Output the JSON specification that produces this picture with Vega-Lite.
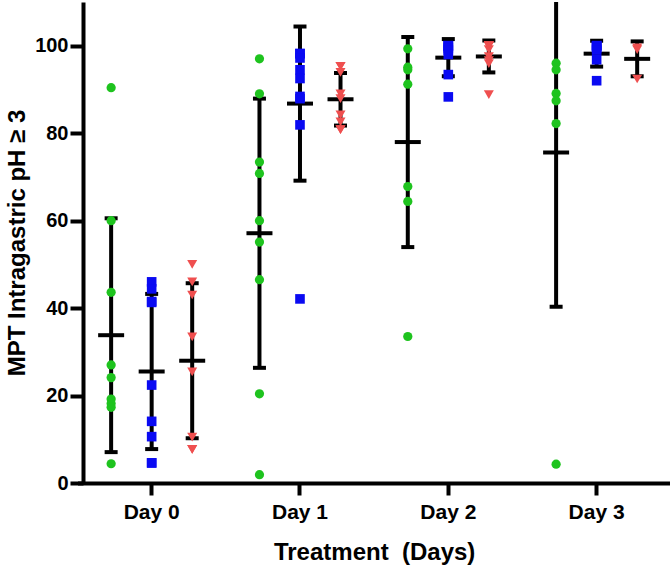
{
  "$schema": "https://vega.github.io/schema/vega-lite/v6.json",
  "width": 587,
  "height": 481,
  "autosize": {"type": "none"},
  "padding": {"left": 83, "top": 2, "right": 0, "bottom": 92},
  "background": "white",
  "config": {
    "view": {"stroke": null},
    "font": "Liberation Sans",
    "axis": {
      "domainColor": "black", "domainWidth": 4, "tickColor": "black", "tickWidth": 4,
      "labelColor": "black", "labelFont": "Liberation Sans", "labelFontWeight": "bold", "labelFontSize": 20,
      "titleFont": "Liberation Sans", "titleFontWeight": "bold", "titleFontSize": 24, "titleColor": "black",
      "grid": false
    }
  },
  "data": {"values": [
    {"day": "Day 0", "group": "G1", "mpt": 90.4}, {"day": "Day 0", "group": "G1", "mpt": 60.0}, {"day": "Day 0", "group": "G1", "mpt": 43.6},
    {"day": "Day 0", "group": "G1", "mpt": 27.0}, {"day": "Day 0", "group": "G1", "mpt": 24.1}, {"day": "Day 0", "group": "G1", "mpt": 19.2},
    {"day": "Day 0", "group": "G1", "mpt": 18.2}, {"day": "Day 0", "group": "G1", "mpt": 17.3}, {"day": "Day 0", "group": "G1", "mpt": 4.4},
    {"day": "Day 0", "group": "G2", "mpt": 46.0}, {"day": "Day 0", "group": "G2", "mpt": 44.4}, {"day": "Day 0", "group": "G2", "mpt": 41.5},
    {"day": "Day 0", "group": "G2", "mpt": 41.3}, {"day": "Day 0", "group": "G2", "mpt": 22.4}, {"day": "Day 0", "group": "G2", "mpt": 14.1},
    {"day": "Day 0", "group": "G2", "mpt": 10.6}, {"day": "Day 0", "group": "G2", "mpt": 4.6}, {"day": "Day 0", "group": "G2", "mpt": 4.6},
    {"day": "Day 0", "group": "G3", "mpt": 50.0}, {"day": "Day 0", "group": "G3", "mpt": 46.0}, {"day": "Day 0", "group": "G3", "mpt": 43.0},
    {"day": "Day 0", "group": "G3", "mpt": 33.4}, {"day": "Day 0", "group": "G3", "mpt": 25.4}, {"day": "Day 0", "group": "G3", "mpt": 10.5},
    {"day": "Day 0", "group": "G3", "mpt": 7.7}, {"day": "Day 0", "group": "G3", "mpt": 7.7},
    {"day": "Day 1", "group": "G1", "mpt": 97.0}, {"day": "Day 1", "group": "G1", "mpt": 89.0}, {"day": "Day 1", "group": "G1", "mpt": 73.4},
    {"day": "Day 1", "group": "G1", "mpt": 70.8}, {"day": "Day 1", "group": "G1", "mpt": 60.0}, {"day": "Day 1", "group": "G1", "mpt": 55.1},
    {"day": "Day 1", "group": "G1", "mpt": 46.5}, {"day": "Day 1", "group": "G1", "mpt": 20.4}, {"day": "Day 1", "group": "G1", "mpt": 1.9},
    {"day": "Day 1", "group": "G2", "mpt": 98.2}, {"day": "Day 1", "group": "G2", "mpt": 98.2}, {"day": "Day 1", "group": "G2", "mpt": 97.2},
    {"day": "Day 1", "group": "G2", "mpt": 94.5}, {"day": "Day 1", "group": "G2", "mpt": 92.5}, {"day": "Day 1", "group": "G2", "mpt": 88.4},
    {"day": "Day 1", "group": "G2", "mpt": 87.9}, {"day": "Day 1", "group": "G2", "mpt": 81.9}, {"day": "Day 1", "group": "G2", "mpt": 42.1},
    {"day": "Day 1", "group": "G3", "mpt": 95.3}, {"day": "Day 1", "group": "G3", "mpt": 95.3}, {"day": "Day 1", "group": "G3", "mpt": 93.9},
    {"day": "Day 1", "group": "G3", "mpt": 89.0}, {"day": "Day 1", "group": "G3", "mpt": 87.9}, {"day": "Day 1", "group": "G3", "mpt": 84.2},
    {"day": "Day 1", "group": "G3", "mpt": 82.6}, {"day": "Day 1", "group": "G3", "mpt": 80.8}, {"day": "Day 1", "group": "G3", "mpt": 80.8},
    {"day": "Day 2", "group": "G1", "mpt": 99.3}, {"day": "Day 2", "group": "G1", "mpt": 95.1}, {"day": "Day 2", "group": "G1", "mpt": 94.5},
    {"day": "Day 2", "group": "G1", "mpt": 91.2}, {"day": "Day 2", "group": "G1", "mpt": 67.8}, {"day": "Day 2", "group": "G1", "mpt": 64.4},
    {"day": "Day 2", "group": "G1", "mpt": 33.5},
    {"day": "Day 2", "group": "G2", "mpt": 100}, {"day": "Day 2", "group": "G2", "mpt": 100}, {"day": "Day 2", "group": "G2", "mpt": 100},
    {"day": "Day 2", "group": "G2", "mpt": 99.5}, {"day": "Day 2", "group": "G2", "mpt": 99.0}, {"day": "Day 2", "group": "G2", "mpt": 98.0},
    {"day": "Day 2", "group": "G2", "mpt": 93.4}, {"day": "Day 2", "group": "G2", "mpt": 88.3},
    {"day": "Day 2", "group": "G3", "mpt": 100}, {"day": "Day 2", "group": "G3", "mpt": 100}, {"day": "Day 2", "group": "G3", "mpt": 100},
    {"day": "Day 2", "group": "G3", "mpt": 100}, {"day": "Day 2", "group": "G3", "mpt": 99.1}, {"day": "Day 2", "group": "G3", "mpt": 97.5},
    {"day": "Day 2", "group": "G3", "mpt": 96.6}, {"day": "Day 2", "group": "G3", "mpt": 95.9}, {"day": "Day 2", "group": "G3", "mpt": 88.8},
    {"day": "Day 3", "group": "G1", "mpt": 96.0}, {"day": "Day 3", "group": "G1", "mpt": 94.5}, {"day": "Day 3", "group": "G1", "mpt": 89.1},
    {"day": "Day 3", "group": "G1", "mpt": 87.4}, {"day": "Day 3", "group": "G1", "mpt": 82.2}, {"day": "Day 3", "group": "G1", "mpt": 4.3},
    {"day": "Day 3", "group": "G2", "mpt": 100}, {"day": "Day 3", "group": "G2", "mpt": 100}, {"day": "Day 3", "group": "G2", "mpt": 100},
    {"day": "Day 3", "group": "G2", "mpt": 99.5}, {"day": "Day 3", "group": "G2", "mpt": 99.0}, {"day": "Day 3", "group": "G2", "mpt": 96.8},
    {"day": "Day 3", "group": "G2", "mpt": 92.0},
    {"day": "Day 3", "group": "G3", "mpt": 99.5}, {"day": "Day 3", "group": "G3", "mpt": 99.1}, {"day": "Day 3", "group": "G3", "mpt": 92.4}
  ]},
  "encoding": {
    "x": {
      "field": "day", "type": "nominal", "sort": ["Day 0", "Day 1", "Day 2", "Day 3"],
      "scale": {"range": [-5.5, 587.8], "paddingInner": 0, "paddingOuter": 0},
      "axis": {"title": "Treatment\u00a0 (Days)", "labelAngle": 0, "tickSize": 12, "labelPadding": 6, "titlePadding": 18, "labelFontSize": 21}
    },
    "xOffset": {"field": "group", "type": "nominal", "sort": ["G1", "G2", "G3"], "scale": {"paddingOuter": 0.33, "paddingInner": 0}},
    "y": {
      "field": "mpt", "type": "quantitative",
      "scale": {"domain": [0, 110], "nice": false},
      "axis": {"title": "MPT Intragastric pH ≥ 3", "values": [0, 20, 40, 60, 80, 100], "tickSize": 13, "labelPadding": 2, "titlePadding": 5}
    }
  },
  "layer": [
    {
      "mark": {"type": "errorbar", "extent": "stdev", "color": "black", "thickness": 4, "clip": true,
               "rule": {"color": "black", "opacity": 1, "strokeWidth": 4},
               "ticks": {"size": 13, "thickness": 4, "color": "black", "opacity": 1}},
      "encoding": {"y": {"field": "mpt", "type": "quantitative", "title": "MPT Intragastric pH ≥ 3"}}
    },
    {
      "mark": {"type": "tick", "color": "black", "size": 26, "thickness": 4, "opacity": 1},
      "encoding": {"y": {"aggregate": "mean", "field": "mpt", "type": "quantitative", "title": "MPT Intragastric pH ≥ 3"}}
    },
    {
      "mark": {"type": "point", "filled": true, "opacity": 1},
      "encoding": {
        "shape": {"field": "group", "type": "nominal", "scale": {"domain": ["G1", "G2", "G3"], "range": ["circle", "square", "triangle-down"]}, "legend": null},
        "color": {"field": "group", "type": "nominal", "scale": {"domain": ["G1", "G2", "G3"], "range": ["#1ec31e", "#0a0af2", "#ef4f4f"]}, "legend": null},
        "size": {"field": "group", "type": "nominal", "scale": {"domain": ["G1", "G2", "G3"], "range": [85, 100, 95]}, "legend": null}
      }
    }
  ]
}
